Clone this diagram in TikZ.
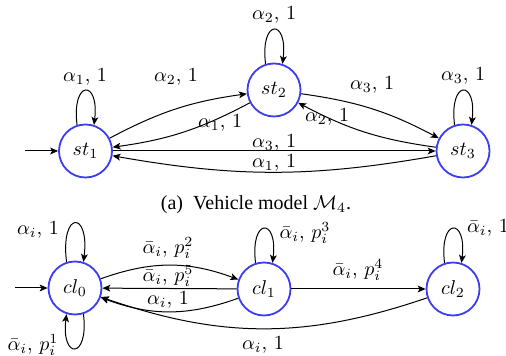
\documentclass[tikz,border=0pt]{standalone}
\usepackage{fontspec}
\newfontfamily\capfont{Liberation Serif}
\usetikzlibrary{arrows.meta}
\definecolor{stblue}{RGB}{60,60,240}
\tikzset{
  stnode/.style={circle, draw=stblue, line width=0.9pt, minimum size=26.5pt, inner sep=0pt},
  arr/.style={line width=0.5pt, -{Stealth[length=4pt,width=3.4pt,inset=1pt]}},
  lbl/.style={inner sep=0pt}
}
\begin{document}
\begin{tikzpicture}[x=0.5pt,y=0.5pt]
\useasboundingbox (0,0) rectangle (506,-356);
% top automaton
\node[stnode] (st1) at (85.5,-151) {$st_1$};
\node[stnode] (st2) at (274,-90) {$st_2$};
\node[stnode] (st3) at (463,-151) {$st_3$};
\coordinate (i1) at (25,-151);
\draw[arr] (i1) -- (st1);
\draw[arr] (st1.108) .. controls +(97:23pt) and +(83:23pt) .. (st1.72);
\draw[arr] (st2.108) .. controls +(97:23pt) and +(83:23pt) .. (st2.72);
\draw[arr] (st3.108) .. controls +(97:23pt) and +(83:23pt) .. (st3.72);
\draw[arr] (st1) to[bend left=10] (st2);
\draw[arr] (st2) to[bend left=10] (st1);
\draw[arr] (st2) to[bend left=10] (st3);
\draw[arr] (st3) to[bend left=10] (st2);
\draw[arr] (st1) -- (st3);
\draw[arr] (st3) to[bend left=10] (st1);
\node[lbl] (la1) at (85,-77) {$\alpha_1$, $1$};
\node[lbl] (la2) at (176,-77) {$\alpha_2$, $1$};
\node[lbl] (la3) at (220,-123) {$\alpha_1$, $1$};
\node[lbl] (la4) at (274,-15) {$\alpha_2$, $1$};
\node[lbl] (la5) at (372,-85) {$\alpha_3$, $1$};
\node[lbl] (la6) at (327,-117) {$\alpha_2$, $1$};
\node[lbl] (la7) at (463,-76) {$\alpha_3$, $1$};
\node[lbl] (la8) at (274,-143) {$\alpha_3$, $1$};
\node[lbl] (la9) at (274,-163) {$\alpha_1$, $1$};
% caption
\node[lbl] (cap) at (256,-205) {\capfont (a)\ \ Vehicle model $\mathcal{M}_4$.};
% bottom automaton
\node[stnode] (cl0) at (75,-288) {$cl_0$};
\node[stnode] (cl1) at (264,-289) {$cl_1$};
\node[stnode] (cl2) at (453,-289) {$cl_2$};
\coordinate (i2) at (15,-288);
\draw[arr] (i2) -- (cl0);
\draw[arr] (cl0.108) .. controls +(97:26pt) and +(83:26pt) .. (cl0.72);
\draw[arr] (cl0.-72) .. controls +(-83:23pt) and +(-97:23pt) .. (cl0.-108);
\draw[arr] (cl1.108) .. controls +(97:23pt) and +(83:23pt) .. (cl1.72);
\draw[arr] (cl2.108) .. controls +(97:23pt) and +(83:23pt) .. (cl2.72);
\draw[arr] (cl0) to[bend left=20] (cl1);
\draw[arr] (cl1) -- (cl0);
\draw[arr] (cl1) to[bend left=20] (cl0);
\draw[arr] (cl1) -- (cl2);
\draw[arr] (cl2) to[bend left=19] (cl0);
\node[lbl] (lb1) at (38,-230) {$\alpha_i$, $1$};
\node[lbl] (lb2) at (33,-345) {$\bar\alpha_i$, $p_i^1$};
\node[lbl] (lb3) at (168,-248) {$\bar\alpha_i$, $p_i^2$};
\node[lbl] (lb4) at (168,-276) {$\bar\alpha_i$, $p_i^5$};
\node[lbl] (lb5) at (168,-300) {$\alpha_i$, $1$};
\node[lbl] (lb6) at (305,-233) {$\bar\alpha_i$, $p_i^3$};
\node[lbl] (lb7) at (358,-270) {$\bar\alpha_i$, $p_i^4$};
\node[lbl] (lb8) at (488,-228) {$\bar\alpha_i$, $1$};
\node[lbl] (lb9) at (263,-345) {$\alpha_i$, $1$};
\end{tikzpicture}
\end{document}
